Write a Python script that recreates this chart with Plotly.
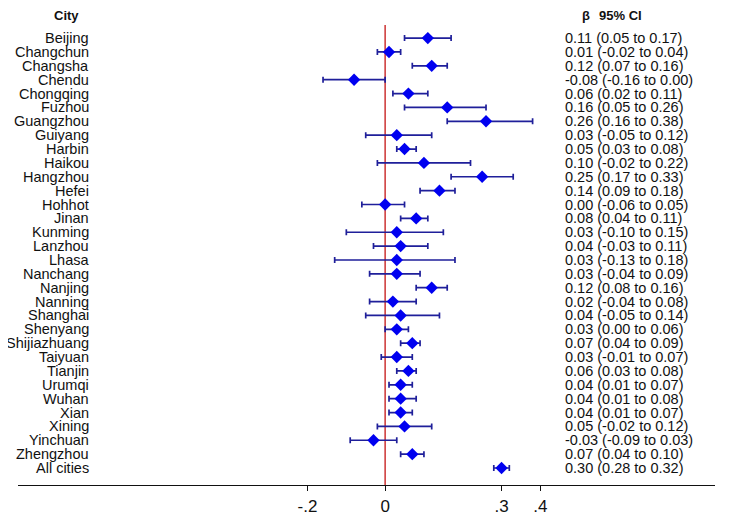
import plotly.graph_objects as go

cities = ["Beijing", "Changchun", "Changsha", "Chendu", "Chongqing", "Fuzhou",
          "Guangzhou", "Guiyang", "Harbin", "Haikou", "Hangzhou", "Hefei",
          "Hohhot", "Jinan", "Kunming", "Lanzhou", "Lhasa", "Nanchang",
          "Nanjing", "Nanning", "Shanghai", "Shenyang", "Shijiazhuang",
          "Taiyuan", "Tianjin", "Urumqi", "Wuhan", "Xian", "Xining",
          "Yinchuan", "Zhengzhou", "All cities"]
beta = [0.11, 0.01, 0.12, -0.08, 0.06, 0.16, 0.26, 0.03, 0.05, 0.10, 0.25, 0.14,
        0.00, 0.08, 0.03, 0.04, 0.03, 0.03, 0.12, 0.02, 0.04, 0.03, 0.07,
        0.03, 0.06, 0.04, 0.04, 0.04, 0.05, -0.03, 0.07, 0.30]
lower = [0.05, -0.02, 0.07, -0.16, 0.02, 0.05, 0.16, -0.05, 0.03, -0.02, 0.17, 0.09,
         -0.06, 0.04, -0.10, -0.03, -0.13, -0.04, 0.08, -0.04, -0.05, 0.00, 0.04,
         -0.01, 0.03, 0.01, 0.01, 0.01, -0.02, -0.09, 0.04, 0.28]
upper = [0.17, 0.04, 0.16, 0.00, 0.11, 0.26, 0.38, 0.12, 0.08, 0.22, 0.33, 0.18,
         0.05, 0.11, 0.15, 0.11, 0.18, 0.09, 0.16, 0.08, 0.14, 0.06, 0.09,
         0.07, 0.08, 0.07, 0.08, 0.07, 0.12, 0.03, 0.10, 0.32]
tick_vals = [-0.2, 0, 0.3, 0.4]
tick_text = ["-.2", "0", ".3", ".4"]

n = len(cities)
ypos = [n - 1 - i for i in range(n)]

def fmt(v):
    return f"{v:.2f}"

labels_right = [f"{fmt(b)} ({fmt(l)} to {fmt(u)})" for b, l, u in zip(beta, lower, upper)]

fig = go.Figure()
fig.add_trace(go.Scatter(
    x=beta, y=ypos, mode="markers",
    marker=dict(symbol="diamond", size=9.5, color="#0000f0", line=dict(width=0)),
    error_x=dict(type="data", symmetric=False,
                 array=[u - b for u, b in zip(upper, beta)],
                 arrayminus=[b - l for b, l in zip(beta, lower)],
                 color="#1f1f9a", thickness=1.7, width=3),
    showlegend=False, hoverinfo="skip"))

font_txt = dict(family="Liberation Sans, Arial, sans-serif", size=14.5, color="#111")
ann = []
for c, t, y in zip(cities, labels_right, ypos):
    ann.append(dict(x=-0.76, y=y, xref="x", yref="y", text=c, showarrow=False,
                    xanchor="right", yanchor="middle", font=font_txt, borderpad=0))
    ann.append(dict(x=0.462, y=y, xref="x", yref="y", text=t, showarrow=False,
                    xanchor="left", yanchor="middle", font=font_txt, borderpad=0))
hfont = dict(family="Liberation Sans, Arial, sans-serif", size=13, color="#111")
ann.append(dict(x=-0.82, y=32.66, xref="x", yref="y", text="<b>City</b>", showarrow=False,
                xanchor="center", yanchor="middle", font=hfont))
ann.append(dict(x=0.502, y=32.66, xref="x", yref="y", text="<b>β</b>", showarrow=False,
                xanchor="left", yanchor="middle", font=hfont))
ann.append(dict(x=0.546, y=32.66, xref="x", yref="y", text="<b>95% CI</b>", showarrow=False,
                xanchor="left", yanchor="middle", font=hfont))

fig.update_layout(
    width=733, height=520,
    margin=dict(l=10, r=26, t=0, b=43),
    plot_bgcolor="white", paper_bgcolor="white",
    xaxis=dict(range=[-0.946, 0.850], tickvals=tick_vals, ticktext=tick_text,
               showgrid=False, zeroline=False, showline=True, linecolor="#111",
               linewidth=1.2, ticks="outside", ticklen=5, tickcolor="#111",
               tickfont=dict(family="Liberation Sans, Arial, sans-serif", size=17, color="#111")),
    yaxis=dict(range=[-1.226, 33.17], showgrid=False, zeroline=False,
               showticklabels=False, showline=False),
    annotations=ann,
    shapes=[dict(type="line", xref="x", yref="y", x0=0, x1=0, y0=-1.226, y1=31.94,
                 line=dict(color="#cc3333", width=1.5), layer="below")],
)

fig.write_html("out.html")
